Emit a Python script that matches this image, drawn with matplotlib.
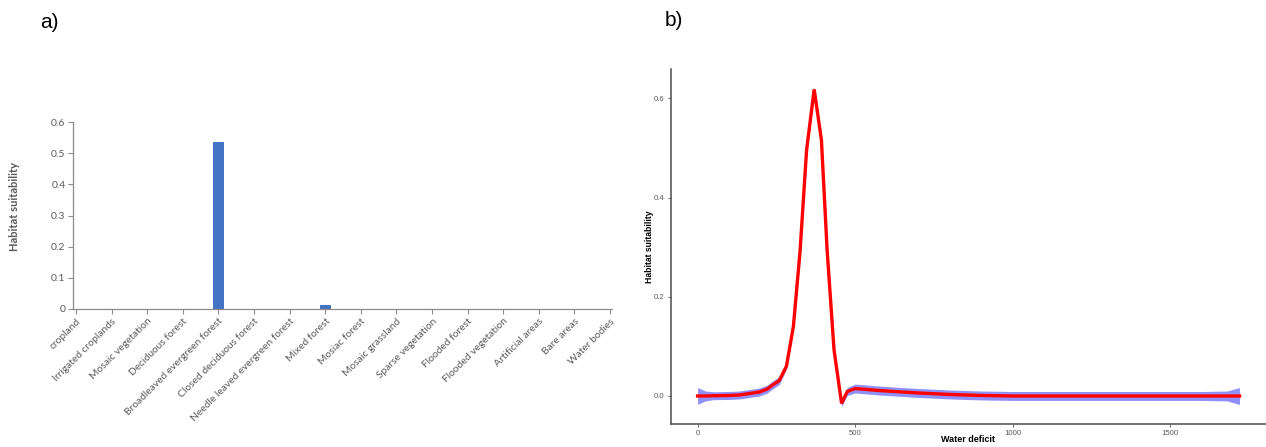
import matplotlib.pyplot as plt
import numpy as np

# ---- panel a) data: habitat suitability per land-cover class ----
land_cover = ["cropland", "Irrigated croplands", "Mosaic vegetation", "Deciduous forest",
              "Broadleaved evergreen forest", "Closed deciduous forest",
              "Needle leaved evergreen forest", "Mixed forest", "Mosiac forest",
              "Mosaic grassland", "Sparse vegetation", "Flooded forest",
              "Flooded vegetation", "Artificial areas", "Bare areas", "Water bodies"]
suitability = [0, 0, 0, 0, 0.535, 0, 0, 0.012, 0, 0, 0, 0, 0, 0, 0, 0]
a_yticks = [0, 0.1, 0.2, 0.3, 0.4, 0.5, 0.6]

# ---- panel b) data: response curve to water deficit ----
deficit = [0, 25, 50, 100, 133, 165, 196, 221, 240, 259, 282, 304, 325, 346, 370,
           393, 411, 433, 457, 475, 500, 576, 650, 703, 800, 900, 1000, 1200,
           1400, 1600, 1680, 1720]
response = [0.000, 0.000, 0.0005, 0.001, 0.002, 0.005, 0.008, 0.014, 0.023, 0.031,
            0.060, 0.140, 0.290, 0.496, 0.618, 0.516, 0.295, 0.093, -0.015, 0.009,
            0.015, 0.011, 0.008, 0.006, 0.003, 0.001, 0.000, 0.000, 0.000, 0.000,
            0.000, 0.000]
band_half = [0.017, 0.010, 0.008, 0.008, 0.008, 0.008, 0.008, 0.008, 0.008, 0.008,
             0.006, 0.005, 0.005, 0.005, 0.006, 0.005, 0.005, 0.005, 0.006, 0.008,
             0.009, 0.009, 0.009, 0.009, 0.009, 0.009, 0.009, 0.009, 0.009, 0.009,
             0.010, 0.017]
b_xticks = [0, 500, 1000, 1500]
b_yticks = [0.0, 0.2, 0.4, 0.6]

W, H = 1266, 447
fig = plt.figure(figsize=(W / 100, H / 100), dpi=100)

# --- a) Excel-style bar chart ---
axa = fig.add_axes([73.2 / W, 1 - 309 / H, 538.6 / W, 187 / H])
pos = np.arange(len(land_cover))
axa.bar(pos, suitability, width=0.31, color="#4472C4")
axa.set_xlim(-0.08, 15.05)
axa.set_ylim(0, 0.6)
axa.set_yticks(a_yticks)
axa.set_yticklabels([f"{v:g}" for v in a_yticks], fontsize=7.5, color="#595959", family="Lato")
axa.set_xticks(pos)
axa.set_xticklabels(land_cover, rotation=45, ha="right", rotation_mode="anchor",
                    fontsize=7.4, color="#595959", family="Lato")
for s in ["top", "right"]:
    axa.spines[s].set_visible(False)
for s in ["left", "bottom"]:
    axa.spines[s].set_color("#8c8c8c")
    axa.spines[s].set_linewidth(0.9)
axa.tick_params(axis="both", length=3.5, width=0.8, color="#8c8c8c", pad=2)
fig.text(15 / W, 1 - 206 / H, "Habitat suitability", rotation=90, ha="center", va="center",
         fontsize=8, fontweight="bold", color="#595959", family="Lato")
fig.text(40 / W, 1 - 28 / H, "a)", fontsize=15, family="Liberation Sans", va="baseline")

# --- b) ggplot-style response curve ---
axb = fig.add_axes([670.5 / W, 1 - 424 / H, 595.5 / W, 354.7 / H])
x = np.array(deficit)
y = np.array(response)
hw = np.array(band_half)
axb.fill_between(x, y - hw, y + hw, color="#9090fa", linewidth=0)
axb.plot(x, y, color="#ff0000", linewidth=2.4, solid_joinstyle="miter")
axb.set_xlim(-86, 1804)
axb.set_ylim(-0.0565, 0.6585)
axb.set_xticks(b_xticks)
axb.set_yticks(b_yticks)
axb.set_yticklabels([f"{v:.1f}" for v in b_yticks])
for s in ["top", "right"]:
    axb.spines[s].set_visible(False)
for s in ["left", "bottom"]:
    axb.spines[s].set_color("#4d4d4d")
    axb.spines[s].set_linewidth(1.1)
axb.tick_params(axis="both", length=2.5, width=0.6, color="#4d4d4d", labelsize=5.6,
                labelcolor="#5a5a5a", pad=2)
for lab in axb.get_xticklabels() + axb.get_yticklabels():
    lab.set_family("Liberation Sans")
fig.text(968 / W, 1 - 439 / H, "Water deficit", ha="center", va="center", fontsize=6.5,
         fontweight="bold", family="Liberation Sans")
fig.text(650 / W, 1 - 246.5 / H, "Habitat suitability", rotation=90, ha="center", va="center",
         fontsize=6.2, fontweight="bold", family="Liberation Sans")
fig.text(665 / W, 1 - 26 / H, "b)", fontsize=15, family="Liberation Sans", va="baseline")

fig.savefig("out.png", dpi=100)
